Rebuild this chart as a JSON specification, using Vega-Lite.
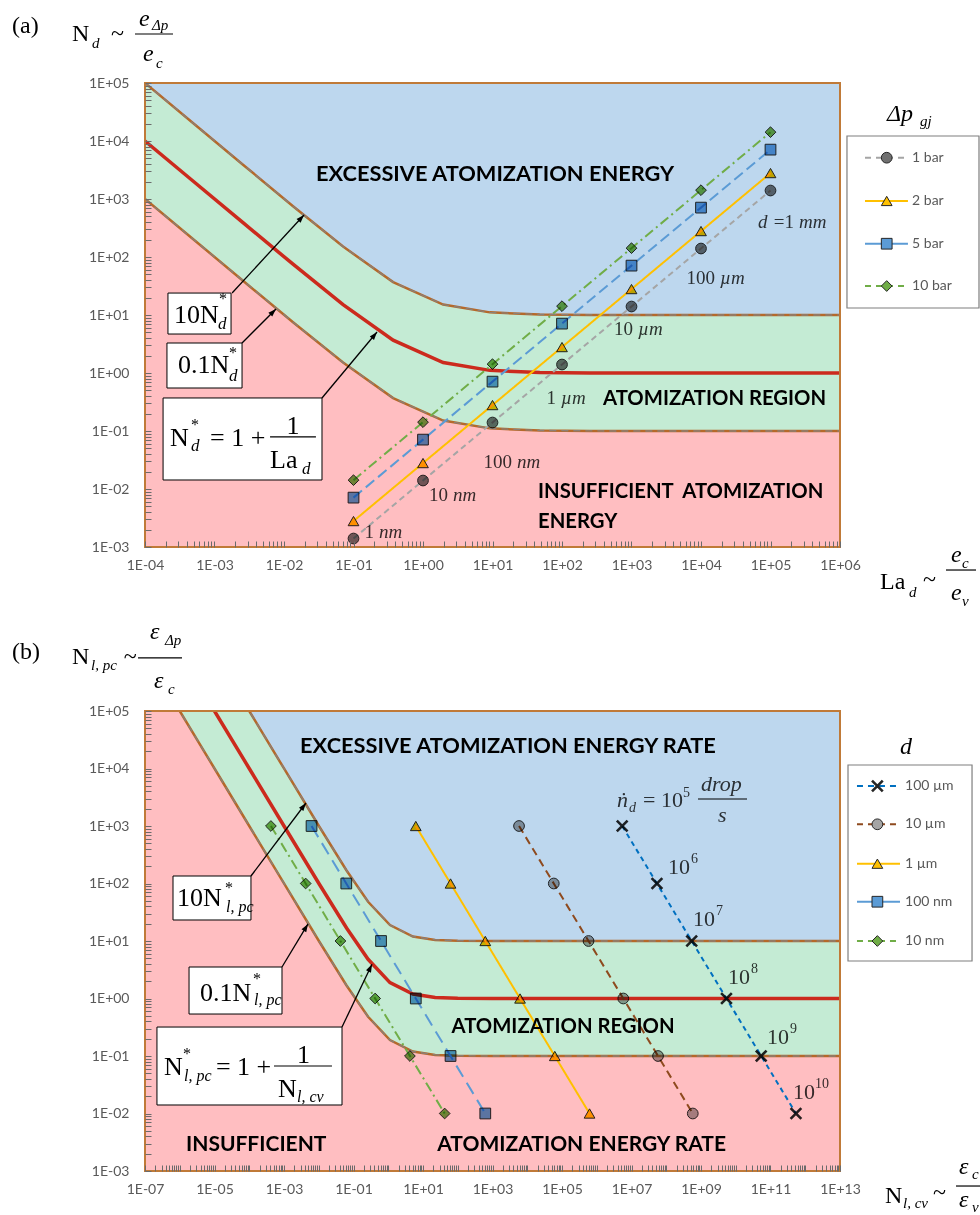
{
  "$schema": "https://vega.github.io/schema/vega-lite/v6.json",
  "padding": {"left": 12, "top": 6, "right": 0, "bottom": 0},
  "background": "white",
  "bounds": "flush",
  "spacing": 164,
  "resolve": {"scale": {"color": "independent", "fill": "independent", "shape": "independent", "strokeDash": "independent"}},
  "config": {"view": {"stroke": null}},
  "vconcat": [
    {
      "width": 695,
      "height": 464,
      "data": {"values": [
        {"La": 0.0001, "lo": 1000.1, "mid": 10001, "hi": 100010},
        {"La": 0.00049, "lo": 204.2, "mid": 2042, "hi": 20420},
        {"La": 0.00257, "lo": 39.0, "mid": 390.1, "hi": 3901},
        {"La": 0.01349, "lo": 7.513, "mid": 75.13, "hi": 751.3},
        {"La": 0.07079, "lo": 1.513, "mid": 15.13, "hi": 151.3},
        {"La": 0.3715, "lo": 0.3692, "mid": 3.692, "hi": 36.92},
        {"La": 1.95, "lo": 0.1513, "mid": 1.513, "hi": 15.13},
        {"La": 9.12, "lo": 0.111, "mid": 1.11, "hi": 11.1},
        {"La": 47.86, "lo": 0.1021, "mid": 1.021, "hi": 10.21},
        {"La": 251.2, "lo": 0.1004, "mid": 1.004, "hi": 10.04},
        {"La": 1000, "lo": 0.1001, "mid": 1.001, "hi": 10.01},
        {"La": 1000000, "lo": 0.1, "mid": 1, "hi": 10}
      ]},
      "layer": [
        {"mark": {"type": "area", "orient": "vertical", "color": "#FFBEC1", "clip": true},
         "encoding": {
           "x": {"field": "La", "type": "quantitative", "scale": {"type": "log", "domain": [0.0001, 1000000], "nice": false},
                 "axis": {"title": null, "tickCount": 40, "labelExpr": "abs(log(datum.value)/LN10-round(log(datum.value)/LN10))<0.01 ? '1E'+(round(log(datum.value)/LN10)<0?'-':'+')+(abs(round(log(datum.value)/LN10))<10?'0':'')+abs(round(log(datum.value)/LN10)) : ''",
                          "labelOverlap": false, "labelFlush": false, "domain": false, "grid": false, "ticks": true, "tickSize": 6, "offset": -6, "tickColor": "#6b6b6b", "tickWidth": 1, "labelPadding": 11, "labelFont": "Lato", "labelFontSize": 14, "labelColor": "#595959", "zindex": 1}},
           "y": {"field": "lo", "type": "quantitative", "scale": {"type": "log", "domain": [0.001, 100000], "nice": false},
                 "axis": {"title": null, "tickCount": 40, "labelExpr": "abs(log(datum.value)/LN10-round(log(datum.value)/LN10))<0.01 ? '1E'+(round(log(datum.value)/LN10)<0?'-':'+')+(abs(round(log(datum.value)/LN10))<10?'0':'')+abs(round(log(datum.value)/LN10)) : ''",
                          "labelOverlap": false, "labelFlush": false, "domain": false, "grid": false, "ticks": true, "tickSize": 6, "offset": -6, "tickColor": "#6b6b6b", "tickWidth": 1, "labelPadding": 16, "labelFont": "Lato", "labelFontSize": 14, "labelColor": "#595959", "zindex": 1}},
           "y2": {"datum": 0.001}}},
        {"mark": {"type": "area", "orient": "vertical", "color": "#C4EBD4", "clip": true},
         "encoding": {"x": {"field": "La", "type": "quantitative"}, "y": {"field": "lo", "type": "quantitative"}, "y2": {"field": "hi"}}},
        {"mark": {"type": "area", "orient": "vertical", "color": "#BDD7EE", "clip": true},
         "encoding": {"x": {"field": "La", "type": "quantitative"}, "y": {"field": "hi", "type": "quantitative"}, "y2": {"datum": 100000}}},
        {"transform": [{"fold": ["lo", "hi"], "as": ["k", "v"]}],
         "mark": {"type": "line", "color": "#B5692A", "strokeWidth": 2.5, "clip": true},
         "encoding": {"x": {"field": "La", "type": "quantitative"}, "y": {"field": "v", "type": "quantitative"}, "detail": {"field": "k"}}},
        {"transform": [{"fold": ["lo", "hi"], "as": ["k", "v"]}],
         "mark": {"type": "line", "color": "#7d8792", "strokeWidth": 1.4, "strokeDash": [7, 5], "opacity": 0.75, "clip": true},
         "encoding": {"x": {"field": "La", "type": "quantitative"}, "y": {"field": "v", "type": "quantitative"}, "detail": {"field": "k"}}},
        {"mark": {"type": "line", "color": "#CC2A1D", "strokeWidth": 3.5, "clip": true},
         "encoding": {"x": {"field": "La", "type": "quantitative"}, "y": {"field": "mid", "type": "quantitative"}}},
        {"data": {"values": [
          {"s": "1 bar", "La": 0.1, "N": 0.0014}, {"s": "1 bar", "La": 1, "N": 0.014}, {"s": "1 bar", "La": 10, "N": 0.14}, {"s": "1 bar", "La": 100, "N": 1.4}, {"s": "1 bar", "La": 1000, "N": 14}, {"s": "1 bar", "La": 10000, "N": 140}, {"s": "1 bar", "La": 100000, "N": 1400},
          {"s": "2 bar", "La": 0.1, "N": 0.0028}, {"s": "2 bar", "La": 1, "N": 0.028}, {"s": "2 bar", "La": 10, "N": 0.28}, {"s": "2 bar", "La": 100, "N": 2.8}, {"s": "2 bar", "La": 1000, "N": 28}, {"s": "2 bar", "La": 10000, "N": 280}, {"s": "2 bar", "La": 100000, "N": 2800},
          {"s": "5 bar", "La": 0.1, "N": 0.0071}, {"s": "5 bar", "La": 1, "N": 0.071}, {"s": "5 bar", "La": 10, "N": 0.71}, {"s": "5 bar", "La": 100, "N": 7.1}, {"s": "5 bar", "La": 1000, "N": 71}, {"s": "5 bar", "La": 10000, "N": 710}, {"s": "5 bar", "La": 100000, "N": 7100},
          {"s": "10 bar", "La": 0.1, "N": 0.0142}, {"s": "10 bar", "La": 1, "N": 0.142}, {"s": "10 bar", "La": 10, "N": 1.42}, {"s": "10 bar", "La": 100, "N": 14.2}, {"s": "10 bar", "La": 1000, "N": 142}, {"s": "10 bar", "La": 10000, "N": 1420}, {"s": "10 bar", "La": 100000, "N": 14200}
         ]},
         "layer": [
           {"mark": {"type": "line", "strokeWidth": 2, "blend": "multiply", "clip": true},
            "encoding": {"x": {"field": "La", "type": "quantitative"}, "y": {"field": "N", "type": "quantitative"},
              "color": {"field": "s", "type": "nominal", "scale": {"domain": ["1 bar", "2 bar", "5 bar", "10 bar"], "range": ["#A5A5A5", "#FFC000", "#5B9BD5", "#70AD47"]}, "legend": null},
              "strokeDash": {"field": "s", "type": "nominal", "scale": {"domain": ["1 bar", "2 bar", "5 bar", "10 bar"], "range": [[6, 4], [1, 0], [11, 5], [10, 4, 2, 4]]}, "legend": null}}},
           {"mark": {"type": "point", "filled": true, "opacity": 1, "stroke": "#262626", "strokeWidth": 1, "size": 115, "blend": "multiply"},
            "encoding": {"x": {"field": "La", "type": "quantitative"}, "y": {"field": "N", "type": "quantitative"},
              "shape": {"field": "s", "type": "nominal", "scale": {"domain": ["1 bar", "2 bar", "5 bar", "10 bar"], "range": ["circle", "triangle-up", "square", "diamond"]}, "legend": null},
              "fill": {"field": "s", "type": "nominal", "scale": {"domain": ["1 bar", "2 bar", "5 bar", "10 bar"], "range": ["#707070", "#FFC000", "#5B9BD5", "#70AD47"]}, "legend": null}}}
         ]},
        {"data": {"values": [{"x": 0.2037, "y": 0.00143, "num": "1", "unit": "nm"}, {"x": 2.366, "y": 0.00621, "num": "10", "unit": "nm"}, {"x": 19.7, "y": 0.023, "num": "100", "unit": "nm"}, {"x": 84.7, "y": 0.292, "num": "1", "unit": "µm"}, {"x": 1086, "y": 4.52, "num": "10", "unit": "µm"}, {"x": 16400, "y": 34.2, "num": "100", "unit": "µm"}, {"x": 225000, "y": 316, "num": "=1", "unit": "mm"}, {"x": 57900, "y": 316, "num": "", "unit": "d"}]},
         "layer": [
           {"mark": {"type": "text", "align": "right", "baseline": "alphabetic", "font": "Liberation Serif", "fontSize": 19, "color": "#383838", "blend": "multiply", "dx": -1},
            "encoding": {"x": {"field": "x", "type": "quantitative"}, "y": {"field": "y", "type": "quantitative"}, "text": {"field": "num"}}},
           {"mark": {"type": "text", "align": "left", "baseline": "alphabetic", "font": "Liberation Serif", "fontStyle": "italic", "fontSize": 19, "color": "#383838", "blend": "multiply", "dx": 4},
            "encoding": {"x": {"field": "x", "type": "quantitative"}, "y": {"field": "y", "type": "quantitative"}, "text": {"field": "unit"}}}
         ]},
        {"data": {"values": [{"x": 0.0288, "y": 2040, "t": "EXCESSIVE ATOMIZATION ENERGY"}]},
         "mark": {"type": "text", "align": "left", "baseline": "alphabetic", "font": "Lato", "fontWeight": "bold", "fontSize": 21.8, "color": "#000000"},
         "encoding": {"x": {"field": "x", "type": "quantitative"}, "y": {"field": "y", "type": "quantitative"}, "text": {"field": "t"}}},
        {"data": {"values": [{"x": 389, "y": 0.2805, "t": "ATOMIZATION REGION"}, {"x": 45.2, "y": 0.007, "t": "INSUFFICIENT\u00a0 ATOMIZATION"}, {"x": 45.2, "y": 0.00213, "t": "ENERGY"}]},
         "mark": {"type": "text", "align": "left", "baseline": "alphabetic", "font": "Lato", "fontWeight": "bold", "fontSize": 20.3, "color": "#000000"},
         "encoding": {"x": {"field": "x", "type": "quantitative"}, "y": {"field": "y", "type": "quantitative"}, "text": {"field": "t"}}},
        {"data": {"values": [{"x1": 0.000214, "x2": 0.00173, "y1": 23.9, "y2": 4.7}, {"x1": 0.000207, "x2": 0.00249, "y1": 3.29, "y2": 0.551}, {"x1": 0.000182, "x2": 0.0352, "y1": 0.371, "y2": 0.0143}]},
         "mark": {"type": "rect", "fill": "white", "stroke": "#000000", "strokeWidth": 1},
         "encoding": {"x": {"field": "x1", "type": "quantitative"}, "x2": {"field": "x2"}, "y": {"field": "y1", "type": "quantitative"}, "y2": {"field": "y2"}}},
        {"data": {"values": [{"x1": 0.00179, "y1": 23.9, "x2": 0.0194, "y2": 530}]},
         "layer": [
           {"mark": {"type": "rule", "color": "black", "strokeWidth": 1.3}, "encoding": {"x": {"field": "x1", "type": "quantitative"}, "y": {"field": "y1", "type": "quantitative"}, "x2": {"field": "x2"}, "y2": {"field": "y2"}}},
           {"mark": {"type": "point", "shape": "M0,0L-0.55,1.6L0.55,1.6Z", "filled": true, "color": "black", "opacity": 1, "size": 100, "angle": 42.7}, "encoding": {"x": {"field": "x2", "type": "quantitative"}, "y": {"field": "y2", "type": "quantitative"}}}
         ]},
        {"data": {"values": [{"x1": 0.00249, "y1": 3.29, "x2": 0.00767, "y2": 12.7}]},
         "layer": [
           {"mark": {"type": "rule", "color": "black", "strokeWidth": 1.3}, "encoding": {"x": {"field": "x1", "type": "quantitative"}, "y": {"field": "y1", "type": "quantitative"}, "x2": {"field": "x2"}, "y2": {"field": "y2"}}},
           {"mark": {"type": "point", "shape": "M0,0L-0.55,1.6L0.55,1.6Z", "filled": true, "color": "black", "opacity": 1, "size": 100, "angle": 45}, "encoding": {"x": {"field": "x2", "type": "quantitative"}, "y": {"field": "y2", "type": "quantitative"}}}
         ]},
        {"data": {"values": [{"x1": 0.0352, "y1": 0.371, "x2": 0.218, "y2": 5.09}]},
         "layer": [
           {"mark": {"type": "rule", "color": "black", "strokeWidth": 1.3}, "encoding": {"x": {"field": "x1", "type": "quantitative"}, "y": {"field": "y1", "type": "quantitative"}, "x2": {"field": "x2"}, "y2": {"field": "y2"}}},
           {"mark": {"type": "point", "shape": "M0,0L-0.55,1.6L0.55,1.6Z", "filled": true, "color": "black", "opacity": 1, "size": 100, "angle": 39.8}, "encoding": {"x": {"field": "x2", "type": "quantitative"}, "y": {"field": "y2", "type": "quantitative"}}}
         ]},
        {"data": {"values": [{"x1": 0.0000718, "x2": 0.000253, "y": 700000}, {"x1": 33500000, "x2": 90600000, "y": 0.000401}, {"x1": 0.0063, "x2": 0.0288, "y": 0.0789}]},
         "mark": {"type": "rule", "color": "black", "strokeWidth": 1.2},
         "encoding": {"x": {"field": "x1", "type": "quantitative"}, "x2": {"field": "x2"}, "y": {"field": "y", "type": "quantitative"}}},
        {"data": {"values": [{"x": 0.000261, "y": 7.28, "t": "10N"}, {"x": 0.000299, "y": 1.0, "t": "0.1N"}, {"x": 0.000229, "y": 0.0551, "t": "N"}, {"x": 0.000861, "y": 0.0551, "t": "= 1 +"}, {"x": 0.01086, "y": 0.0887, "t": "1"}, {"x": 0.0063, "y": 0.023, "t": "La"}]},
         "mark": {"type": "text", "align": "left", "baseline": "alphabetic", "font": "Liberation Serif", "fontSize": 26, "color": "#000000"},
         "encoding": {"x": {"field": "x", "type": "quantitative"}, "y": {"field": "y", "type": "quantitative"}, "text": {"field": "t"}}},
        {"data": {"values": [{"x": 0.00116, "y": 15.5, "t": "*"}, {"x": 0.00162, "y": 1.81, "t": "*"}, {"x": 0.000459, "y": 0.104, "t": "*"}]},
         "mark": {"type": "text", "align": "left", "baseline": "alphabetic", "font": "Liberation Serif", "fontSize": 16, "color": "#000000"},
         "encoding": {"x": {"field": "x", "type": "quantitative"}, "y": {"field": "y", "type": "quantitative"}, "text": {"field": "t"}}},
        {"data": {"values": [{"x": 0.00112, "y": 5.74, "t": "d"}, {"x": 0.00162, "y": 0.728, "t": "d"}, {"x": 0.000459, "y": 0.0452, "t": "d"}, {"x": 0.01815, "y": 0.01815, "t": "d"}]},
         "mark": {"type": "text", "align": "left", "baseline": "alphabetic", "font": "Liberation Serif", "fontStyle": "italic", "fontSize": 17, "color": "#000000"},
         "encoding": {"x": {"field": "x", "type": "quantitative"}, "y": {"field": "y", "type": "quantitative"}, "text": {"field": "t"}}},
        {"data": {"values": [{"x": 0.00000122, "y": 728000, "t": "(a)"}, {"x": 0.00000891, "y": 530000, "t": "N"}, {"x": 0.0000324, "y": 530000, "t": "~"}, {"x": 3770000, "y": 0.000189, "t": "La"}, {"x": 15600000, "y": 0.000204, "t": "~"}]},
         "mark": {"type": "text", "align": "left", "baseline": "alphabetic", "font": "Liberation Serif", "fontSize": 24, "color": "#000000"},
         "encoding": {"x": {"field": "x", "type": "quantitative"}, "y": {"field": "y", "type": "quantitative"}, "text": {"field": "t"}}},
        {"data": {"values": [{"x": 0.000082, "y": 962000, "t": "e"}, {"x": 0.0000936, "y": 239000, "t": "e"}, {"x": 39500000, "y": 0.000551, "t": "e"}, {"x": 39500000, "y": 0.000122, "t": "e"}, {"x": 4740000, "y": 22100, "t": "Δp"}]},
         "mark": {"type": "text", "align": "left", "baseline": "alphabetic", "font": "Liberation Serif", "fontStyle": "italic", "fontSize": 24, "color": "#000000"},
         "encoding": {"x": {"field": "x", "type": "quantitative"}, "y": {"field": "y", "type": "quantitative"}, "text": {"field": "t"}}},
        {"data": {"values": [{"x": 0.0000173, "y": 401000, "t": "d"}, {"x": 0.000126, "y": 820000, "t": "Δp"}, {"x": 0.000144, "y": 182000, "t": "c"}, {"x": 9840000, "y": 0.000137, "t": "d"}, {"x": 56900000, "y": 0.000435, "t": "c"}, {"x": 56900000, "y": 0.0000962, "t": "v"}, {"x": 14200000, "y": 18200, "t": "gj"}]},
         "mark": {"type": "text", "align": "left", "baseline": "alphabetic", "font": "Liberation Serif", "fontStyle": "italic", "fontSize": 15, "color": "#000000"},
         "encoding": {"x": {"field": "x", "type": "quantitative"}, "y": {"field": "y", "type": "quantitative"}, "text": {"field": "t"}}},
        {"data": {"values": [{}]},
         "mark": {"type": "rect", "fill": "white", "stroke": "#7f7f7f", "strokeWidth": 1.2},
         "encoding": {"x": {"datum": 1260000}, "x2": {"datum": 100000000}, "y": {"datum": 12200}, "y2": {"datum": 13.2}}},
        {"data": {"values": [{"s": "1 bar", "ly": 5150}, {"s": "2 bar", "ly": 925}, {"s": "5 bar", "ly": 169.4}, {"s": "10 bar", "ly": 31.6}]},
         "layer": [
           {"mark": {"type": "rule", "strokeWidth": 2},
            "encoding": {"x": {"datum": 2290000}, "x2": {"datum": 9500000}, "y": {"field": "ly", "type": "quantitative"}, "color": {"field": "s", "type": "nominal", "legend": null},
              "strokeDash": {"condition": {"test": "datum.s === '2 bar' || datum.s === '5 bar'", "value": [1, 0]}, "value": [6, 5]}}},
           {"mark": {"type": "point", "filled": true, "opacity": 1, "stroke": "#262626", "strokeWidth": 1, "size": 115},
            "encoding": {"x": {"datum": 4700000}, "y": {"field": "ly", "type": "quantitative"}, "shape": {"field": "s", "type": "nominal", "legend": null}, "fill": {"field": "s", "type": "nominal", "legend": null}}},
           {"mark": {"type": "text", "align": "left", "baseline": "middle", "font": "Lato", "fontSize": 14, "color": "#595959"},
            "encoding": {"x": {"datum": 10900000}, "y": {"field": "ly", "type": "quantitative"}, "text": {"field": "s"}}}
         ]},
        {"data": {"values": [{}]},
         "mark": {"type": "rect", "filled": false, "stroke": "#C07A38", "strokeWidth": 2},
         "encoding": {"x": {"datum": 0.0001}, "x2": {"datum": 1000000}, "y": {"datum": 0.001}, "y2": {"datum": 100000}}}
      ]
    },
    {
      "width": 695,
      "height": 460,
      "data": {"values": [
        {"Ncv": 1e-7, "lo": 1000000, "mid": 10000000, "hi": 100000000},
        {"Ncv": 1e-6, "lo": 100000, "mid": 1000000, "hi": 10000000},
        {"Ncv": 1e-5, "lo": 10000, "mid": 100001, "hi": 1000010},
        {"Ncv": 0.0001, "lo": 1000.1, "mid": 10001, "hi": 100010},
        {"Ncv": 0.001, "lo": 100.1, "mid": 1001, "hi": 10010},
        {"Ncv": 0.01, "lo": 10.1, "mid": 101, "hi": 1010},
        {"Ncv": 0.0631, "lo": 1.685, "mid": 16.85, "hi": 168.5},
        {"Ncv": 0.263, "lo": 0.4802, "mid": 4.802, "hi": 48.02},
        {"Ncv": 1.122, "lo": 0.1891, "mid": 1.891, "hi": 18.91},
        {"Ncv": 5.129, "lo": 0.1195, "mid": 1.195, "hi": 11.95},
        {"Ncv": 22.39, "lo": 0.1045, "mid": 1.045, "hi": 10.45},
        {"Ncv": 100, "lo": 0.101, "mid": 1.01, "hi": 10.1},
        {"Ncv": 1000, "lo": 0.1001, "mid": 1.001, "hi": 10.01},
        {"Ncv": 1e13, "lo": 0.1, "mid": 1, "hi": 10}
      ]},
      "layer": [
        {"mark": {"type": "area", "orient": "vertical", "color": "#FFBEC1", "clip": true},
         "encoding": {
           "x": {"field": "Ncv", "type": "quantitative", "scale": {"type": "log", "domain": [1e-7, 1e13], "nice": false},
                 "axis": {"title": null, "tickCount": 60, "labelExpr": "abs(log(datum.value)/LN10-round(log(datum.value)/LN10))<0.01 && (round(log(datum.value)/LN10)+7)%2==0 ? '1E'+(round(log(datum.value)/LN10)<0?'-':'+')+(abs(round(log(datum.value)/LN10))<10?'0':'')+abs(round(log(datum.value)/LN10)) : ''",
                          "labelOverlap": false, "labelFlush": false, "domain": false, "grid": false, "ticks": true, "tickSize": 6, "offset": -6, "tickColor": "#6b6b6b", "tickWidth": 1, "labelPadding": 11, "labelFont": "Lato", "labelFontSize": 14, "labelColor": "#595959", "zindex": 1}},
           "y": {"field": "lo", "type": "quantitative", "scale": {"type": "log", "domain": [0.001, 100000], "nice": false},
                 "axis": {"title": null, "tickCount": 40, "labelExpr": "abs(log(datum.value)/LN10-round(log(datum.value)/LN10))<0.01 ? '1E'+(round(log(datum.value)/LN10)<0?'-':'+')+(abs(round(log(datum.value)/LN10))<10?'0':'')+abs(round(log(datum.value)/LN10)) : ''",
                          "labelOverlap": false, "labelFlush": false, "domain": false, "grid": false, "ticks": true, "tickSize": 6, "offset": -6, "tickColor": "#6b6b6b", "tickWidth": 1, "labelPadding": 16, "labelFont": "Lato", "labelFontSize": 14, "labelColor": "#595959", "zindex": 1}},
           "y2": {"datum": 0.001}}},
        {"mark": {"type": "area", "orient": "vertical", "color": "#C4EBD4", "clip": true},
         "encoding": {"x": {"field": "Ncv", "type": "quantitative"}, "y": {"field": "lo", "type": "quantitative"}, "y2": {"field": "hi"}}},
        {"mark": {"type": "area", "orient": "vertical", "color": "#BDD7EE", "clip": true},
         "encoding": {"x": {"field": "Ncv", "type": "quantitative"}, "y": {"field": "hi", "type": "quantitative"}, "y2": {"datum": 100000}}},
        {"transform": [{"fold": ["lo", "hi"], "as": ["k", "v"]}],
         "mark": {"type": "line", "color": "#B5692A", "strokeWidth": 2.5, "clip": true},
         "encoding": {"x": {"field": "Ncv", "type": "quantitative"}, "y": {"field": "v", "type": "quantitative"}, "detail": {"field": "k"}}},
        {"transform": [{"fold": ["lo", "hi"], "as": ["k", "v"]}],
         "mark": {"type": "line", "color": "#7d8792", "strokeWidth": 1.4, "strokeDash": [7, 5], "opacity": 0.75, "clip": true},
         "encoding": {"x": {"field": "Ncv", "type": "quantitative"}, "y": {"field": "v", "type": "quantitative"}, "detail": {"field": "k"}}},
        {"mark": {"type": "line", "color": "#CC2A1D", "strokeWidth": 3.5, "clip": true},
         "encoding": {"x": {"field": "Ncv", "type": "quantitative"}, "y": {"field": "mid", "type": "quantitative"}}},
        {"data": {"values": [
          {"s": "100 µm", "Ncv": 5400000, "Npc": 1000}, {"s": "100 µm", "Ncv": 54000000, "Npc": 100}, {"s": "100 µm", "Ncv": 540000000, "Npc": 10}, {"s": "100 µm", "Ncv": 5400000000, "Npc": 1}, {"s": "100 µm", "Ncv": 54000000000, "Npc": 0.1}, {"s": "100 µm", "Ncv": 540000000000, "Npc": 0.01},
          {"s": "10 µm", "Ncv": 5800, "Npc": 1000}, {"s": "10 µm", "Ncv": 58000, "Npc": 100}, {"s": "10 µm", "Ncv": 580000, "Npc": 10}, {"s": "10 µm", "Ncv": 5800000, "Npc": 1}, {"s": "10 µm", "Ncv": 58000000, "Npc": 0.1}, {"s": "10 µm", "Ncv": 580000000, "Npc": 0.01},
          {"s": "1 µm", "Ncv": 6.2, "Npc": 1000}, {"s": "1 µm", "Ncv": 62, "Npc": 100}, {"s": "1 µm", "Ncv": 620, "Npc": 10}, {"s": "1 µm", "Ncv": 6200, "Npc": 1}, {"s": "1 µm", "Ncv": 62000, "Npc": 0.1}, {"s": "1 µm", "Ncv": 620000, "Npc": 0.01},
          {"s": "100 nm", "Ncv": 0.0062, "Npc": 1000}, {"s": "100 nm", "Ncv": 0.062, "Npc": 100}, {"s": "100 nm", "Ncv": 0.62, "Npc": 10}, {"s": "100 nm", "Ncv": 6.2, "Npc": 1}, {"s": "100 nm", "Ncv": 62, "Npc": 0.1}, {"s": "100 nm", "Ncv": 620, "Npc": 0.01},
          {"s": "10 nm", "Ncv": 0.00042, "Npc": 1000}, {"s": "10 nm", "Ncv": 0.0042, "Npc": 100}, {"s": "10 nm", "Ncv": 0.042, "Npc": 10}, {"s": "10 nm", "Ncv": 0.42, "Npc": 1}, {"s": "10 nm", "Ncv": 4.2, "Npc": 0.1}, {"s": "10 nm", "Ncv": 42, "Npc": 0.01}
         ]},
         "layer": [
           {"mark": {"type": "line", "strokeWidth": 2, "blend": "multiply", "clip": true},
            "encoding": {"x": {"field": "Ncv", "type": "quantitative"}, "y": {"field": "Npc", "type": "quantitative"},
              "color": {"field": "s", "type": "nominal", "scale": {"domain": ["100 µm", "10 µm", "1 µm", "100 nm", "10 nm"], "range": ["#0070C0", "#8E4A1E", "#FFC000", "#5B9BD5", "#70AD47"]}, "legend": null},
              "strokeDash": {"field": "s", "type": "nominal", "scale": {"domain": ["100 µm", "10 µm", "1 µm", "100 nm", "10 nm"], "range": [[5, 4], [8, 5], [1, 0], [13, 7], [10, 4, 2, 4]]}, "legend": null}}},
           {"mark": {"type": "point", "filled": true, "opacity": 1, "stroke": "#262626", "size": 115, "blend": "multiply"},
            "encoding": {"x": {"field": "Ncv", "type": "quantitative"}, "y": {"field": "Npc", "type": "quantitative"},
              "shape": {"field": "s", "type": "nominal", "scale": {"domain": ["100 µm", "10 µm", "1 µm", "100 nm", "10 nm"], "range": ["M-1,-1L1,1M-1,1L1,-1", "circle", "triangle-up", "square", "diamond"]}, "legend": null},
              "fill": {"field": "s", "type": "nominal", "scale": {"domain": ["100 µm", "10 µm", "1 µm", "100 nm", "10 nm"], "range": ["#1a1a1a", "#A5A5A5", "#FFC000", "#5B9BD5", "#70AD47"]}, "legend": null},
              "strokeWidth": {"condition": {"test": "datum.s === '100 µm'", "value": 2.6}, "value": 1}}}
         ]},
        {"data": {"values": [{"x": 21400000, "y": 2138, "t": "= 10"}, {"x": 112000000, "y": 146, "t": "10"}, {"x": 589000000, "y": 18.2, "t": "10"}, {"x": 5980000000, "y": 1.79, "t": "10"}, {"x": 79300000000, "y": 0.162, "t": "10"}, {"x": 444000000000, "y": 0.01786, "t": "10"}]},
         "mark": {"type": "text", "align": "left", "baseline": "alphabetic", "font": "Liberation Serif", "fontSize": 22, "color": "#383838", "blend": "multiply"},
         "encoding": {"x": {"field": "x", "type": "quantitative"}, "y": {"field": "y", "type": "quantitative"}, "text": {"field": "t"}}},
        {"data": {"values": [{"x": 303000000, "y": 3190, "t": "5"}, {"x": 515000000, "y": 228, "t": "6"}, {"x": 2700000000, "y": 28.3, "t": "7"}, {"x": 27500000000, "y": 2.77, "t": "8"}, {"x": 364000000000, "y": 0.251, "t": "9"}, {"x": 1910000000000, "y": 0.0277, "t": "10"}]},
         "mark": {"type": "text", "align": "left", "baseline": "alphabetic", "font": "Liberation Serif", "fontSize": 14, "color": "#383838", "blend": "multiply"},
         "encoding": {"x": {"field": "x", "type": "quantitative"}, "y": {"field": "y", "type": "quantitative"}, "text": {"field": "t"}}},
        {"data": {"values": [{"x": 3830000, "y": 2138, "t": "ṅ"}, {"x": 1000000000, "y": 4064, "t": "drop"}, {"x": 3080000000, "y": 1175, "t": "s"}]},
         "mark": {"type": "text", "align": "left", "baseline": "alphabetic", "font": "Liberation Serif, DejaVu Serif", "fontStyle": "italic", "fontSize": 22, "color": "#383838", "blend": "multiply"},
         "encoding": {"x": {"field": "x", "type": "quantitative"}, "y": {"field": "y", "type": "quantitative"}, "text": {"field": "t"}}},
        {"data": {"values": [{"x": 8470000, "y": 1750, "t": "d"}]},
         "mark": {"type": "text", "align": "left", "baseline": "alphabetic", "font": "Liberation Serif", "fontStyle": "italic", "fontSize": 14, "color": "#383838", "blend": "multiply"},
         "encoding": {"x": {"field": "x", "type": "quantitative"}, "y": {"field": "y", "type": "quantitative"}, "text": {"field": "t"}}},
        {"data": {"values": [{"x": 2790, "y": 18600, "t": "EXCESSIVE ATOMIZATION ENERGY RATE"}]},
         "mark": {"type": "text", "align": "center", "baseline": "alphabetic", "font": "Lato", "fontWeight": "bold", "fontSize": 21.8, "color": "#000000"},
         "encoding": {"x": {"field": "x", "type": "quantitative"}, "y": {"field": "y", "type": "quantitative"}, "text": {"field": "t"}}},
        {"data": {"values": [{"x": 107000, "y": 0.251, "t": "ATOMIZATION REGION"}]},
         "mark": {"type": "text", "align": "center", "baseline": "alphabetic", "font": "Lato", "fontWeight": "bold", "fontSize": 20.3, "color": "#000000"},
         "encoding": {"x": {"field": "x", "type": "quantitative"}, "y": {"field": "y", "type": "quantitative"}, "text": {"field": "t"}}},
        {"data": {"values": [{"x": 0.00000151, "y": 0.00223, "t": "INSUFFICIENT"}]},
         "mark": {"type": "text", "align": "left", "baseline": "alphabetic", "font": "Lato", "fontWeight": "bold", "fontSize": 21, "color": "#000000"},
         "encoding": {"x": {"field": "x", "type": "quantitative"}, "y": {"field": "y", "type": "quantitative"}, "text": {"field": "t"}}},
        {"data": {"values": [{"x": 5240000000, "y": 0.00223, "t": "ATOMIZATION ENERGY RATE"}]},
         "mark": {"type": "text", "align": "right", "baseline": "alphabetic", "font": "Lato", "fontWeight": "bold", "fontSize": 21, "color": "#000000"},
         "encoding": {"x": {"field": "x", "type": "quantitative"}, "y": {"field": "y", "type": "quantitative"}, "text": {"field": "t"}}},
        {"data": {"values": [{"x1": 0.00000064, "x2": 0.000112, "y1": 135, "y2": 23.2}, {"x1": 0.00000185, "x2": 0.000875, "y1": 3.53, "y2": 0.537}, {"x1": 0.000000221, "x2": 0.0467, "y1": 0.319, "y2": 0.01406}]},
         "mark": {"type": "rect", "fill": "white", "stroke": "#000000", "strokeWidth": 1},
         "encoding": {"x": {"field": "x1", "type": "quantitative"}, "x2": {"field": "x2"}, "y": {"field": "y1", "type": "quantitative"}, "y2": {"field": "y2"}}},
        {"data": {"values": [{"x1": 0.000112, "y1": 135, "x2": 0.00429, "y2": 2512}]},
         "layer": [
           {"mark": {"type": "rule", "color": "black", "strokeWidth": 1.3}, "encoding": {"x": {"field": "x1", "type": "quantitative"}, "y": {"field": "y1", "type": "quantitative"}, "x2": {"field": "x2"}, "y2": {"field": "y2"}}},
           {"mark": {"type": "point", "shape": "M0,0L-0.55,1.6L0.55,1.6Z", "filled": true, "color": "black", "opacity": 1, "size": 100, "angle": 37}, "encoding": {"x": {"field": "x2", "type": "quantitative"}, "y": {"field": "y2", "type": "quantitative"}}}
         ]},
        {"data": {"values": [{"x1": 0.000875, "y1": 3.53, "x2": 0.00491, "y2": 19.8}]},
         "layer": [
           {"mark": {"type": "rule", "color": "black", "strokeWidth": 1.3}, "encoding": {"x": {"field": "x1", "type": "quantitative"}, "y": {"field": "y1", "type": "quantitative"}, "x2": {"field": "x2"}, "y2": {"field": "y2"}}},
           {"mark": {"type": "point", "shape": "M0,0L-0.55,1.6L0.55,1.6Z", "filled": true, "color": "black", "opacity": 1, "size": 100, "angle": 31.2}, "encoding": {"x": {"field": "x2", "type": "quantitative"}, "y": {"field": "y2", "type": "quantitative"}}}
         ]},
        {"data": {"values": [{"x1": 0.0467, "y1": 0.319, "x2": 0.34, "y2": 3.94}]},
         "layer": [
           {"mark": {"type": "rule", "color": "black", "strokeWidth": 1.3}, "encoding": {"x": {"field": "x1", "type": "quantitative"}, "y": {"field": "y1", "type": "quantitative"}, "x2": {"field": "x2"}, "y2": {"field": "y2"}}},
           {"mark": {"type": "point", "shape": "M0,0L-0.55,1.6L0.55,1.6Z", "filled": true, "color": "black", "opacity": 1, "size": 100, "angle": 25.5}, "encoding": {"x": {"field": "x2", "type": "quantitative"}, "y": {"field": "y2", "type": "quantitative"}}}
         ]},
        {"data": {"values": [{"x1": 0.000000063, "x2": 0.00000116, "y": 836000}, {"x1": 21800000000000000, "x2": 139000000000000000, "y": 0.000548}, {"x1": 0.000515, "x2": 0.024, "y": 0.067}, {"x1": 820000000, "x2": 21100000000, "y": 2951}]},
         "mark": {"type": "rule", "color": "black", "strokeWidth": 1.2},
         "encoding": {"x": {"field": "x1", "type": "quantitative"}, "x2": {"field": "x2"}, "y": {"field": "y", "type": "quantitative"}}},
        {"data": {"values": [{"x": 0.000000834, "y": 40.6, "t": "10N"}, {"x": 0.00000383, "y": 0.906, "t": "0.1N"}, {"x": 0.000000352, "y": 0.0468, "t": "N"}, {"x": 0.000011, "y": 0.0468, "t": "= 1 +"}, {"x": 0.00237, "y": 0.0755, "t": "1"}, {"x": 0.000671, "y": 0.01936, "t": "N"}]},
         "mark": {"type": "text", "align": "left", "baseline": "alphabetic", "font": "Liberation Serif", "fontSize": 26, "color": "#000000"},
         "encoding": {"x": {"field": "x", "type": "quantitative"}, "y": {"field": "y", "type": "quantitative"}, "text": {"field": "t"}}},
        {"data": {"values": [{"x": 0.00002, "y": 68.4, "t": "*"}, {"x": 0.000128, "y": 1.79, "t": "*"}, {"x": 0.00000124, "y": 0.0887, "t": "*"}]},
         "mark": {"type": "text", "align": "left", "baseline": "alphabetic", "font": "Liberation Serif", "fontSize": 16, "color": "#000000"},
         "encoding": {"x": {"field": "x", "type": "quantitative"}, "y": {"field": "y", "type": "quantitative"}, "text": {"field": "t"}}},
        {"data": {"values": [{"x": 0.0000214, "y": 31.9, "t": "l, pc"}, {"x": 0.000137, "y": 0.771, "t": "l, pc"}, {"x": 0.00000132, "y": 0.0367, "t": "l, pc"}, {"x": 0.00237, "y": 0.01585, "t": "l, cv"}]},
         "mark": {"type": "text", "align": "left", "baseline": "alphabetic", "font": "Liberation Serif", "fontStyle": "italic", "fontSize": 16, "color": "#000000"},
         "encoding": {"x": {"field": "x", "type": "quantitative"}, "y": {"field": "y", "type": "quantitative"}, "text": {"field": "t"}}},
        {"data": {"values": [{"x": 0.0000000000149, "y": 802000, "t": "(b)"}, {"x": 0.000000000793, "y": 656000, "t": "N"}, {"x": 0.0000000245, "y": 656000, "t": "~"}, {"x": 197000000000000, "y": 0.000277, "t": "N"}, {"x": 4740000000000000, "y": 0.000313, "t": "~"}]},
         "mark": {"type": "text", "align": "left", "baseline": "alphabetic", "font": "Liberation Serif", "fontSize": 24, "color": "#000000"},
         "encoding": {"x": {"field": "x", "type": "quantitative"}, "y": {"field": "y", "type": "quantitative"}, "text": {"field": "t"}}},
        {"data": {"values": [{"x": 0.000000139, "y": 1790000, "t": "ε"}, {"x": 0.000000182, "y": 251000, "t": "ε"}, {"x": 26600000000000000, "y": 0.000887, "t": "ε"}, {"x": 26600000000000000, "y": 0.000237, "t": "ε"}, {"x": 533000000000000, "y": 17900, "t": "d"}]},
         "mark": {"type": "text", "align": "left", "baseline": "alphabetic", "font": "Liberation Serif", "fontStyle": "italic", "fontSize": 24, "color": "#000000"},
         "encoding": {"x": {"field": "x", "type": "quantitative"}, "y": {"field": "y", "type": "quantitative"}, "text": {"field": "t"}}},
        {"data": {"values": [{"x": 0.00000000279, "y": 516000, "t": "l, pc"}, {"x": 0.000000377, "y": 1410000, "t": "Δp"}, {"x": 0.000000459, "y": 198000, "t": "c"}, {"x": 650000000000000, "y": 0.000228, "t": "l, cv"}, {"x": 63000000000000000, "y": 0.000726, "t": "c"}, {"x": 63000000000000000, "y": 0.000194, "t": "v"}]},
         "mark": {"type": "text", "align": "left", "baseline": "alphabetic", "font": "Liberation Serif", "fontStyle": "italic", "fontSize": 15, "color": "#000000"},
         "encoding": {"x": {"field": "x", "type": "quantitative"}, "y": {"field": "y", "type": "quantitative"}, "text": {"field": "t"}}},
        {"data": {"values": [{}]},
         "mark": {"type": "rect", "fill": "white", "stroke": "#7f7f7f", "strokeWidth": 1.2},
         "encoding": {"x": {"datum": 17000000000000}, "x2": {"datum": 63000000000000000}, "y": {"datum": 11500}, "y2": {"datum": 4.49}}},
        {"data": {"values": [{"s": "100 µm", "ly": 4960}, {"s": "10 µm", "ly": 1071}, {"s": "1 µm", "ly": 221}, {"s": "100 nm", "ly": 48.2}, {"s": "10 nm", "ly": 10}]},
         "layer": [
           {"mark": {"type": "rule", "strokeWidth": 2},
            "encoding": {"x": {"datum": 30800000000000}, "x2": {"datum": 533000000000000}, "y": {"field": "ly", "type": "quantitative"}, "color": {"field": "s", "type": "nominal", "legend": null},
              "strokeDash": {"condition": {"test": "datum.s === '1 µm' || datum.s === '100 nm'", "value": [1, 0]}, "value": [6, 5]}}},
           {"mark": {"type": "point", "filled": true, "opacity": 1, "stroke": "#262626", "size": 115},
            "encoding": {"x": {"datum": 119000000000000}, "y": {"field": "ly", "type": "quantitative"}, "shape": {"field": "s", "type": "nominal", "legend": null}, "fill": {"field": "s", "type": "nominal", "legend": null},
              "strokeWidth": {"condition": {"test": "datum.s === '100 µm'", "value": 2.6}, "value": 1}}},
           {"mark": {"type": "text", "align": "left", "baseline": "middle", "font": "Lato", "fontSize": 14, "color": "#595959"},
            "encoding": {"x": {"datum": 743000000000000}, "y": {"field": "ly", "type": "quantitative"}, "text": {"field": "s"}}}
         ]},
        {"data": {"values": [{}]},
         "mark": {"type": "rect", "filled": false, "stroke": "#C07A38", "strokeWidth": 2},
         "encoding": {"x": {"datum": 1e-7}, "x2": {"datum": 1e13}, "y": {"datum": 0.001}, "y2": {"datum": 100000}}}
      ]
    }
  ]
}
